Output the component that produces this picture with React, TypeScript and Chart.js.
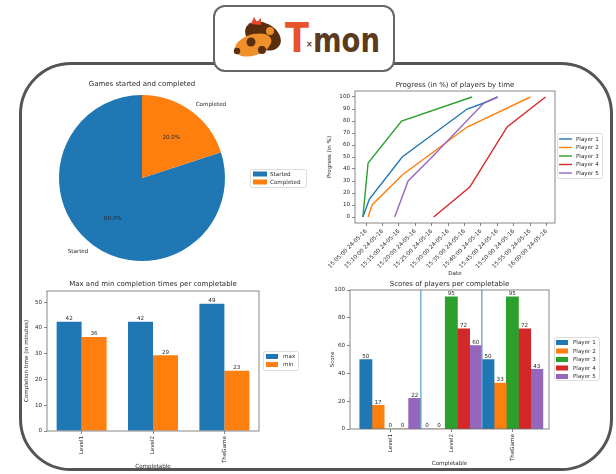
import React, { useEffect, useRef } from 'react';
import { Chart, registerables } from 'chart.js';
Chart.register(...registerables);

const FONT = "'DejaVu Sans', 'Noto Sans', sans-serif";
const TXT = '#2a2a2a';
const SPINE = '#6a6a6a';
const FS = 5.6;
const TFS = 7;

const BLUE = '#1f77b4';
const ORANGE = '#ff7f0e';
const GREEN = '#2ca02c';
const RED = '#d62728';
const PURPLE = '#9467bd';
const playerColors = [BLUE, ORANGE, GREEN, RED, PURPLE];

// ---------- Pie data ----------
const pieLabels = ['Started', 'Completed'];
const pieValues = [80, 20];

// ---------- Progress data (minutes after 15:00) ----------
const players = ['Player 1', 'Player 2', 'Player 3', 'Player 4', 'Player 5'];
const p1Minutes = [4.0, 6.0, 16.0, 35.8, 40.9, 45.1];
const p1Progress = [0, 15, 50, 90, 95, 100];
const p2Minutes = [5.6, 6.8, 16.0, 35.8, 55.1];
const p2Progress = [0, 10, 35, 75, 100];
const p3Minutes = [4.0, 5.6, 15.8, 37.3];
const p3Progress = [0, 45, 80, 100];
const p4Minutes = [25.6, 36.6, 48.0, 59.7];
const p4Progress = [0, 25, 75, 100];
const p5Minutes = [13.7, 17.8, 25.1, 40.9, 45.1];
const p5Progress = [0, 30, 50, 95, 100];
const timeTickMinutes = [5, 10, 15, 20, 25, 30, 35, 40, 45, 50, 55, 60];
const timeTickLabels = [
  '15:05:00 24-05-16', '15:10:00 24-05-16', '15:15:00 24-05-16', '15:20:00 24-05-16',
  '15:25:00 24-05-16', '15:30:00 24-05-16', '15:35:00 24-05-16', '15:40:00 24-05-16',
  '15:45:00 24-05-16', '15:50:00 24-05-16', '15:55:00 24-05-16', '16:00:00 24-05-16',
];
const progressTicks = [0, 10, 20, 30, 40, 50, 60, 70, 80, 90, 100];

// ---------- Completion times ----------
const completables = ['Level1', 'Level2', 'TheGame'];
const maxTimes = [42.4, 42.4, 49.4];
const minTimes = [36.5, 29.4, 23.4];
const timeTicks = [0, 10, 20, 30, 40, 50];

// ---------- Scores ----------
const scoresP1 = [50, 0, 50];
const scoresP2 = [17, 0, 33];
const scoresP3 = [0, 95, 95];
const scoresP4 = [0, 72, 72];
const scoresP5 = [22, 60, 43];
const scoreTicks = [0, 20, 40, 60, 80, 100];

// ---------- helpers ----------
const f = (size: number) => ({ family: FONT, size, lineHeight: 1.2 });
const catIdx = completables.map((_, i) => i);

function yAxis(o: { min: number; max: number; ticks: number[]; title: string; width: number; titlePad: number }) {
  return {
    type: 'linear', position: 'left', min: o.min, max: o.max,
    afterBuildTicks: (s: any) => { s.ticks = o.ticks.map((v) => ({ value: v })); },
    ticks: { font: f(FS), color: TXT, padding: 2, autoSkip: false },
    grid: { drawOnChartArea: false, drawTicks: true, tickLength: 3, color: SPINE, lineWidth: 0.8 },
    border: { display: false },
    title: { display: true, text: o.title, font: f(FS), color: TXT, padding: { top: o.titlePad, bottom: 0 } },
    afterFit: (s: any) => { s.width = o.width; s.paddingTop = 0; s.paddingBottom = 0; s.paddingLeft = 0; s.paddingRight = 0; },
  };
}

function xAxis(o: { min: number; max: number; ticks: number[]; labels: string[]; title: string; height: number; rotation: number; titlePad: number }) {
  return {
    type: 'linear', position: 'bottom', min: o.min, max: o.max, offset: false,
    afterBuildTicks: (s: any) => { s.ticks = o.ticks.map((v) => ({ value: v })); },
    ticks: {
      font: f(FS), color: TXT, padding: 2, autoSkip: false, minRotation: o.rotation, maxRotation: o.rotation,
      callback: (v: any) => { const i = o.ticks.indexOf(Number(v)); return i >= 0 ? o.labels[i] : ''; },
    },
    grid: { drawOnChartArea: false, drawTicks: true, tickLength: 3, color: SPINE, lineWidth: 0.8, offset: false },
    border: { display: false },
    title: { display: true, text: o.title, font: f(FS), color: TXT, padding: { top: 0, bottom: o.titlePad } },
    afterFit: (s: any) => { s.height = o.height; s.paddingTop = 0; s.paddingBottom = 0; s.paddingLeft = 0; s.paddingRight = 0; },
  };
}

const framePlugin = {
  id: 'mplFrame',
  afterDatasetsDraw(chart: any) {
    const { ctx, chartArea: a } = chart;
    ctx.save();
    ctx.strokeStyle = SPINE;
    ctx.lineWidth = 0.8;
    ctx.strokeRect(a.left, a.top, a.right - a.left, a.bottom - a.top);
    ctx.restore();
  },
};

function titlePlugin(text: string, y: number) {
  return {
    id: 'mplTitle',
    afterDraw(chart: any) {
      const { ctx, chartArea: a } = chart;
      ctx.save();
      ctx.font = `${TFS}px ${FONT}`;
      ctx.fillStyle = TXT;
      ctx.textAlign = 'center';
      ctx.textBaseline = 'middle';
      ctx.fillText(text, (a.left + a.right) / 2, y);
      ctx.restore();
    },
  };
}

type Box = { x: number; y: number; w: number; h: number; row0: number; gap: number; hx: number; hw: number; tx: number };
function legendPlugin(kind: 'patch' | 'line', box: Box, fromLabels = false) {
  return {
    id: 'mplLegend',
    afterDraw(chart: any) {
      const ctx = chart.ctx;
      let items: { label: string; color: string }[];
      if (fromLabels) {
        const ds = chart.data.datasets[0];
        items = chart.data.labels.map((l: string, i: number) => ({ label: l, color: ds.backgroundColor[i] }));
      } else {
        items = chart.data.datasets.map((d: any) => ({ label: d.label, color: d.borderColor || d.backgroundColor }));
      }
      ctx.save();
      ctx.beginPath();
      ctx.roundRect(box.x + 0.5, box.y + 0.5, box.w, box.h, 2);
      ctx.fillStyle = 'rgba(255,255,255,0.85)';
      ctx.fill();
      ctx.strokeStyle = '#d4d4d4';
      ctx.lineWidth = 0.8;
      ctx.stroke();
      ctx.font = `${FS}px ${FONT}`;
      ctx.textAlign = 'left';
      ctx.textBaseline = 'middle';
      items.forEach((it, i) => {
        const cy = box.row0 + i * box.gap;
        if (kind === 'patch') {
          ctx.fillStyle = it.color;
          ctx.fillRect(box.hx, cy - 2.5, box.hw, 5);
        } else {
          ctx.strokeStyle = it.color;
          ctx.lineWidth = 1.4;
          ctx.beginPath();
          ctx.moveTo(box.hx, cy);
          ctx.lineTo(box.hx + box.hw, cy);
          ctx.stroke();
        }
        ctx.fillStyle = TXT;
        ctx.fillText(it.label, box.tx, cy + 0.5);
      });
      ctx.restore();
    },
  };
}

function barLabelPlugin(fmt: (v: number) => string) {
  return {
    id: 'barLabels',
    afterDatasetsDraw(chart: any) {
      const ctx = chart.ctx;
      ctx.save();
      ctx.font = `${FS}px ${FONT}`;
      ctx.fillStyle = TXT;
      ctx.textAlign = 'center';
      ctx.textBaseline = 'bottom';
      chart.data.datasets.forEach((ds: any, di: number) => {
        const meta = chart.getDatasetMeta(di);
        meta.data.forEach((el: any, i: number) => {
          const raw = ds.data[i];
          const v = typeof raw === 'number' ? raw : raw.y;
          ctx.fillText(fmt(v), el.x, el.y - 0.3);
        });
      });
      ctx.restore();
    },
  };
}

const separatorPlugin = {
  id: 'separators',
  afterDatasetsDraw(chart: any) {
    const { ctx, chartArea: a, scales } = chart;
    ctx.save();
    ctx.strokeStyle = '#6aaad6';
    ctx.lineWidth = 1.4;
    for (let i = 1; i < completables.length; i++) {
      const x = scales.x.getPixelForValue(i - 0.5);
      ctx.beginPath();
      ctx.moveTo(x, a.top);
      ctx.lineTo(x, a.bottom);
      ctx.stroke();
    }
    ctx.restore();
  },
};

const pieLabelPlugin = {
  id: 'pieLabels',
  afterDatasetsDraw(chart: any) {
    const ctx = chart.ctx;
    const meta = chart.getDatasetMeta(0);
    const values: number[] = chart.data.datasets[0].data;
    const total = values.reduce((s, v) => s + v, 0);
    ctx.save();
    ctx.font = `${FS}px ${FONT}`;
    ctx.fillStyle = TXT;
    ctx.textBaseline = 'middle';
    meta.data.forEach((el: any, i: number) => {
      const a = (el.startAngle + el.endAngle) / 2;
      const r = el.outerRadius;
      const lx = el.x + Math.cos(a) * r * 1.1;
      const ly = el.y + Math.sin(a) * r * 1.1;
      ctx.textAlign = Math.cos(a) > 0 ? 'left' : 'right';
      ctx.fillText(chart.data.labels[i], lx, ly);
      ctx.textAlign = 'center';
      ctx.fillText(((values[i] / total) * 100).toFixed(1) + '%', el.x + Math.cos(a) * r * 0.6, el.y + Math.sin(a) * r * 0.6);
    });
    ctx.restore();
  },
};

const base = {
  responsive: false,
  animation: false,
  devicePixelRatio: 1,
  events: [],
};
const noPlugins = { legend: { display: false }, tooltip: { enabled: false }, title: { display: false } };

// ---------- configs ----------
function pieConfig(): any {
  return {
    type: 'pie',
    data: { labels: pieLabels, datasets: [{ data: pieValues, backgroundColor: [BLUE, ORANGE], borderWidth: 0 }] },
    options: { ...base, rotation: 72, layout: { padding: { left: 39, right: 85, top: 23, bottom: 11 } }, plugins: noPlugins },
    plugins: [
      pieLabelPlugin,
      titlePlugin('Games started and completed', 12),
      legendPlugin('patch', { x: 230, y: 97, w: 56, h: 18, row0: 102, gap: 8, hx: 233, hw: 14, tx: 250 }, true),
    ],
  };
}

function progressConfig(): any {
  const mins = [p1Minutes, p2Minutes, p3Minutes, p4Minutes, p5Minutes];
  const progs = [p1Progress, p2Progress, p3Progress, p4Progress, p5Progress];
  return {
    type: 'line',
    data: {
      datasets: players.map((p, i) => ({
        label: p,
        data: mins[i].map((m, j) => ({ x: m, y: progs[i][j] })),
        borderColor: playerColors[i],
        backgroundColor: playerColors[i],
        borderWidth: 1.4,
        pointRadius: 0,
        tension: 0,
        fill: false,
        order: players.length - i,
      })),
    },
    options: {
      ...base,
      layout: { padding: { left: 25, right: 61, top: 19, bottom: 2 } },
      plugins: noPlugins,
      scales: {
        x: xAxis({ min: 1.6, max: 62.6, ticks: timeTickMinutes, labels: timeTickLabels, title: 'Date', height: 57, rotation: 45, titlePad: 3.5 }),
        y: yAxis({ min: -5, max: 105, ticks: progressTicks, title: 'Progress (in %)', width: 30, titlePad: 1.5 }),
      },
    },
    plugins: [
      framePlugin,
      titlePlugin('Progress (in %) of players by time', 13),
      legendPlugin('line', { x: 257, y: 61, w: 45, h: 45, row0: 67, gap: 8.5, hx: 259, hw: 13, tx: 276 }),
    ],
  };
}

function timesConfig(): any {
  return {
    type: 'bar',
    data: {
      datasets: [
        { label: 'max', data: catIdx.map((i) => ({ x: i, y: maxTimes[i] })), backgroundColor: BLUE, borderWidth: 0 },
        { label: 'min', data: catIdx.map((i) => ({ x: i, y: minTimes[i] })), backgroundColor: ORANGE, borderWidth: 0 },
      ],
    },
    options: {
      ...base,
      categoryPercentage: 0.7,
      barPercentage: 1,
      layout: { padding: { left: 1, right: 51, top: 19, bottom: 2.5 } },
      plugins: noPlugins,
      scales: {
        x: xAxis({ min: -0.485, max: 2.485, ticks: catIdx, labels: completables, title: 'Completable', height: 40.5, rotation: 90, titlePad: 2 }),
        y: yAxis({ min: 0, max: 54.3, ticks: timeTicks, title: 'Completion time (in minutes)', width: 26, titlePad: 2 }),
      },
    },
    plugins: [
      framePlugin,
      barLabelPlugin((v) => String(Math.trunc(v))),
      titlePlugin('Max and min completion times per completable', 12),
      legendPlugin('patch', { x: 243, y: 79, w: 35, h: 19, row0: 84.5, gap: 8, hx: 246, hw: 12, tx: 263 }),
    ],
  };
}

function scoresConfig(): any {
  const sc = [scoresP1, scoresP2, scoresP3, scoresP4, scoresP5];
  return {
    type: 'bar',
    data: {
      datasets: players.map((p, k) => ({
        label: p,
        data: catIdx.map((i) => ({ x: i, y: sc[k][i] })),
        backgroundColor: playerColors[k],
        borderWidth: 0,
      })),
    },
    options: {
      ...base,
      categoryPercentage: 1,
      barPercentage: 1,
      layout: { padding: { left: 21.5, right: 67, top: 18, bottom: 5.5 } },
      plugins: noPlugins,
      scales: {
        x: xAxis({ min: -0.66, max: 2.6, ticks: catIdx, labels: completables, title: 'Completable', height: 39.5, rotation: 90, titlePad: 2 }),
        y: yAxis({ min: 0, max: 100, ticks: scoreTicks, title: 'Score', width: 22.5, titlePad: 2 }),
      },
    },
    plugins: [
      separatorPlugin,
      framePlugin,
      barLabelPlugin((v) => String(v)),
      titlePlugin('Scores of players per completable', 12),
      legendPlugin('patch', { x: 248, y: 65, w: 45, h: 43, row0: 70.5, gap: 8.5, hx: 250, hw: 12, tx: 267 }),
    ],
  };
}

function ChartBox(props: { left: number; top: number; width: number; height: number; make: () => any }) {
  const ref = useRef<HTMLCanvasElement>(null);
  useEffect(() => {
    const chart = new Chart(ref.current as HTMLCanvasElement, props.make());
    return () => chart.destroy();
  }, []);
  return (
    <div style={{ position: 'absolute', left: props.left, top: props.top, width: props.width, height: props.height }}>
      <canvas ref={ref} width={props.width} height={props.height} style={{ width: props.width, height: props.height, display: 'block' }} />
    </div>
  );
}

function Logo() {
  return (
    <div
      style={{
        position: 'absolute', left: 213, top: 5, width: 182, height: 67, boxSizing: 'border-box',
        border: '2.5px solid #666', borderRadius: 12, background: '#fff',
      }}
    >
      <svg width={177} height={62} style={{ position: 'absolute', left: 0, top: 0 }}>
        <g>
          <ellipse cx={48} cy={29} rx={19} ry={13} fill="#5a2d0c" transform="rotate(28 48 29)" />
          <ellipse cx={38} cy={38} rx={19} ry={10.5} fill="#f0902a" transform="rotate(-18 38 38)" />
          <circle cx={55} cy={24} r={4} fill="#f0902a" />
          <circle cx={36} cy={35} r={4.5} fill="#5a2d0c" />
          <circle cx={47} cy={43} r={4} fill="#5a2d0c" />
          <circle cx={22} cy={44} r={3.2} fill="#5a2d0c" />
          <path d="M36 17 L39 10 L42 15 L46 11 L46 18 Z" fill="#e8452a" />
        </g>
        <text x={70} y={45} fontFamily="'DejaVu Sans', sans-serif" fontWeight="bold" fontSize={40} fill="#e8542a" textLength={24} lengthAdjust="spacingAndGlyphs">T</text>
        <text x={91} y={40} fontFamily="'DejaVu Sans', sans-serif" fontWeight="bold" fontSize={8} fill="#5b3a1e">×</text>
        <text x={98} y={45} fontFamily="'DejaVu Sans', sans-serif" fontWeight="bold" fontSize={34} fill="#5b3a1e" textLength={67} lengthAdjust="spacingAndGlyphs">mon</text>
      </svg>
    </div>
  );
}

export default function App() {
  return (
    <div style={{ position: 'absolute', left: 0, top: 0, width: 616, height: 474, background: '#fff', overflow: 'hidden' }}>
      <div
        style={{
          position: 'absolute', left: 19, top: 62, width: 594, height: 409, boxSizing: 'border-box',
          border: '3px solid #555', borderRadius: 52,
        }}
      />
      <ChartBox left={20} top={72} width={290} height={200} make={pieConfig} />
      <ChartBox left={300} top={72} width={316} height={210} make={progressConfig} />
      <ChartBox left={20} top={272} width={290} height={202} make={timesConfig} />
      <ChartBox left={306} top={272} width={310} height={202} make={scoresConfig} />
      <Logo />
    </div>
  );
}
